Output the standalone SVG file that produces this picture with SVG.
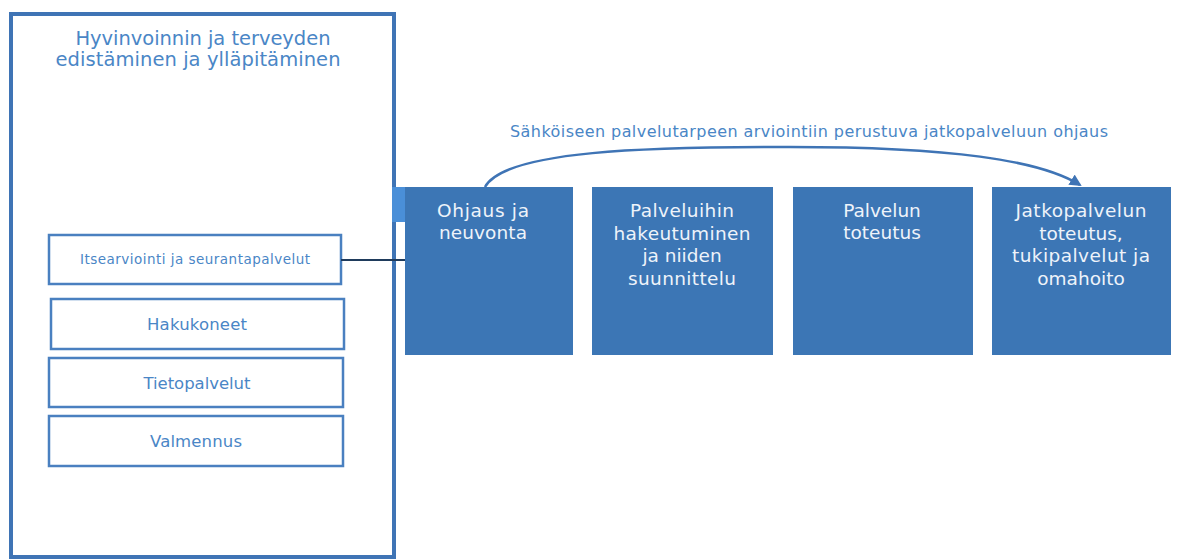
<svg xmlns="http://www.w3.org/2000/svg" width="1178" height="560" viewBox="0 0 1178 560">
<style>
.outer{fill:#fff;stroke:#3f74b5;stroke-width:4}
.sub{fill:#fff;stroke:#4a80c0;stroke-width:2.5}
.blue{fill:#3c76b5}
.lt{font-family:"DejaVu Sans",Verdana,sans-serif;fill:#4a86c6;text-anchor:middle}
.wt{font-family:"DejaVu Sans",Verdana,sans-serif;fill:#eef3fa;text-anchor:middle;font-size:18.5px}
</style>
<defs>
<marker id="ah" markerWidth="12" markerHeight="12" refX="10" refY="6" orient="auto" markerUnits="userSpaceOnUse">
<path d="M0,0 L12,6 L0,12 Z" fill="#3f74b5"/>
</marker>
</defs>
<rect width="1178" height="560" fill="#fff"/>
<g id="main">
<rect class="outer" x="11" y="14" width="383" height="543"/>
<text class="lt" font-size="19.5" x="203" y="45" textLength="255" lengthAdjust="spacing">Hyvinvoinnin ja terveyden</text>
<text class="lt" font-size="19.5" x="198" y="66" textLength="285" lengthAdjust="spacing">edistäminen ja ylläpitäminen</text>
</g>
<g id="itsearviointi">
<rect class="sub" x="49" y="235" width="292" height="49"/>
<text class="lt" font-size="13.5" x="195" y="264" textLength="230" lengthAdjust="spacing">Itsearviointi ja seurantapalvelut</text>
</g>
<g id="hakukoneet">
<rect class="sub" x="51" y="299" width="293" height="50"/>
<text class="lt" font-size="16.5" x="197" y="330" textLength="100" lengthAdjust="spacing">Hakukoneet</text>
</g>
<g id="tietopalvelut">
<rect class="sub" x="49" y="358" width="294" height="49"/>
<text class="lt" font-size="16.5" x="197" y="389" textLength="107" lengthAdjust="spacing">Tietopalvelut</text>
</g>
<g id="valmennus">
<rect class="sub" x="49" y="416" width="294" height="50"/>
<text class="lt" font-size="16.5" x="196" y="447" textLength="92" lengthAdjust="spacing">Valmennus</text>
</g>
<g id="tab">
<rect x="392" y="187" width="14" height="35" fill="#4a8fd8"/>
</g>
<g id="ohjaus">
<rect class="blue" x="405" y="187" width="168" height="168"/>
<text class="wt" x="483" y="217" textLength="92" lengthAdjust="spacing">Ohjaus ja</text>
<text class="wt" x="483" y="239" textLength="88" lengthAdjust="spacing">neuvonta</text>
</g>
<g id="palveluihin">
<rect class="blue" x="592" y="187" width="181" height="168"/>
<text class="wt" x="682" y="217" textLength="104" lengthAdjust="spacing">Palveluihin</text>
<text class="wt" x="682" y="240" textLength="137" lengthAdjust="spacing">hakeutuminen</text>
<text class="wt" x="682" y="262">ja niiden</text>
<text class="wt" x="682" y="285" textLength="108" lengthAdjust="spacing">suunnittelu</text>
</g>
<g id="palvelun">
<rect class="blue" x="793" y="187" width="180" height="168"/>
<text class="wt" x="882" y="217">Palvelun</text>
<text class="wt" x="882" y="239">toteutus</text>
</g>
<g id="jatkopalvelun">
<rect class="blue" x="992" y="187" width="179" height="168"/>
<text class="wt" x="1081" y="217" textLength="131" lengthAdjust="spacing">Jatkopalvelun</text>
<text class="wt" x="1081" y="240">toteutus,</text>
<text class="wt" x="1081" y="262" textLength="138" lengthAdjust="spacing">tukipalvelut ja</text>
<text class="wt" x="1081" y="285">omahoito</text>
</g>
<g id="connectors">
<line x1="341" y1="260" x2="405" y2="260" stroke="#1f3b5c" stroke-width="2"/>
<path d="M485,187 C505,150 650,147 790,147 C950,147 1040,160 1080,185" fill="none" stroke="#3f74b5" stroke-width="2.5" marker-end="url(#ah)"/>
</g>
<text class="lt" font-size="16" x="809" y="137" textLength="598" lengthAdjust="spacing">Sähköiseen palvelutarpeen arviointiin perustuva jatkopalveluun ohjaus</text>
</svg>
